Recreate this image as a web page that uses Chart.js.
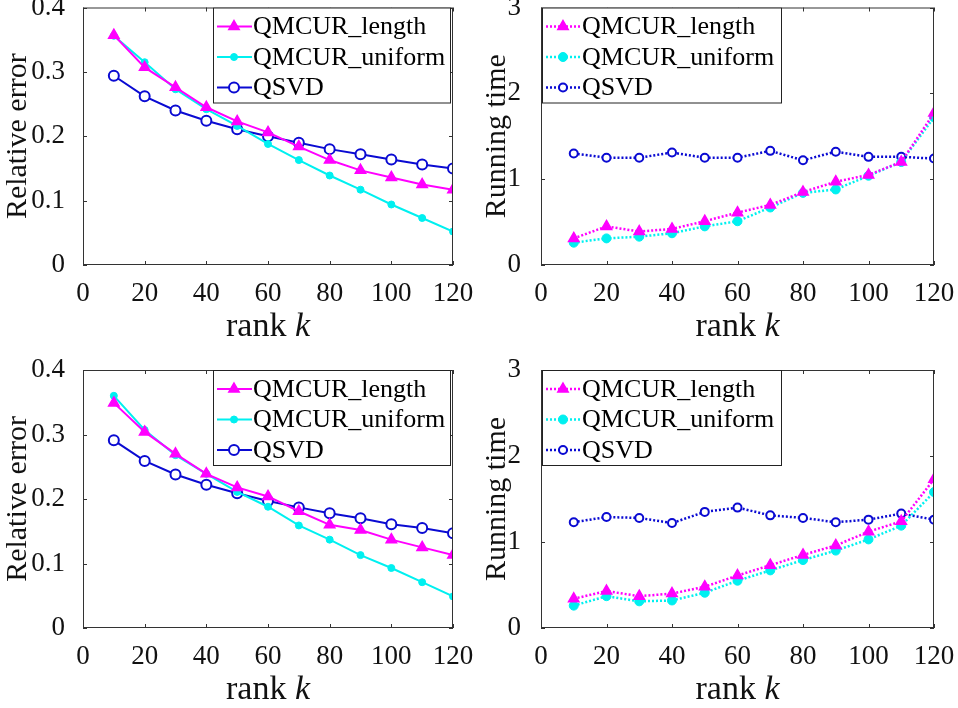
<!DOCTYPE html>
<html lang="en">
<head>
  <meta charset="UTF-8">
  <title>QMCUR vs QSVD</title>
  <script src="https://cdn.jsdelivr.net/npm/chart.js"></script>
  <style>
    body { margin: 0; background: #fff; }
    #wrap { position: relative; width: 958px; height: 708px; overflow: hidden; }
    canvas { position: absolute; }
  </style>
</head>
<body>
  <div id="wrap">
    <canvas id="errTop" width="479" height="354" style="left:0;top:0"></canvas>
    <canvas id="timeTop" width="479" height="354" style="left:479px;top:0"></canvas>
    <canvas id="errBot" width="479" height="354" style="left:0;top:354px"></canvas>
    <canvas id="timeBot" width="479" height="354" style="left:479px;top:354px"></canvas>
  </div>
  <script>
    const ranks = [10, 20, 30, 40, 50, 60, 70, 80, 90, 100, 110, 120];
    const xTicks = [0, 20, 40, 60, 80, 100, 120];
    const errTicks = [0, 0.1, 0.2, 0.3, 0.4];
    const timeTicks = [0, 1, 2, 3];
    const seriesNames = ['QMCUR_length', 'QMCUR_uniform', 'QSVD'];

    // top row
    const errLenTop = [0.357, 0.307, 0.276, 0.245, 0.223, 0.206, 0.184, 0.163, 0.147, 0.136, 0.125, 0.117];
    const errUniTop = [0.356, 0.315, 0.273, 0.242, 0.216, 0.188, 0.163, 0.139, 0.117, 0.094, 0.073, 0.052];
    const errSvdTop = [0.294, 0.262, 0.240, 0.224, 0.211, 0.200, 0.190, 0.180, 0.172, 0.164, 0.156, 0.150];
    const timeLenTop = [0.31, 0.45, 0.39, 0.42, 0.51, 0.61, 0.70, 0.85, 0.97, 1.05, 1.20, 1.77];
    const timeUniTop = [0.26, 0.31, 0.33, 0.37, 0.45, 0.51, 0.67, 0.84, 0.88, 1.04, 1.20, 1.72];
    const timeSvdTop = [1.30, 1.25, 1.25, 1.31, 1.25, 1.25, 1.33, 1.22, 1.32, 1.26, 1.26, 1.24];

    // bottom row
    const errLenBot = [0.349, 0.304, 0.270, 0.239, 0.218, 0.204, 0.181, 0.160, 0.152, 0.137, 0.125, 0.113];
    const errUniBot = [0.360, 0.307, 0.268, 0.239, 0.211, 0.188, 0.159, 0.137, 0.113, 0.093, 0.071, 0.049];
    const errSvdBot = [0.291, 0.259, 0.238, 0.222, 0.209, 0.197, 0.187, 0.178, 0.170, 0.161, 0.155, 0.147];
    const timeLenBot = [0.34, 0.43, 0.37, 0.40, 0.48, 0.61, 0.73, 0.85, 0.96, 1.12, 1.24, 1.73];
    const timeUniBot = [0.26, 0.37, 0.31, 0.32, 0.41, 0.55, 0.67, 0.79, 0.90, 1.03, 1.19, 1.58];
    const timeSvdBot = [1.23, 1.29, 1.28, 1.22, 1.35, 1.40, 1.31, 1.28, 1.23, 1.26, 1.33, 1.26];

    const SERIF = "'Liberation Serif', 'Times New Roman', serif";
    const MAGENTA = '#ff00ff', CYAN = '#00f0f0', BLUE = '#0a0ad2';

    // axes box, inward ticks, legend inside the axes and "rank k" label
    const matlabAxes = {
      id: 'matlabAxes',
      afterDatasetsDraw(chart, args, opts) {
        const ctx = chart.ctx;
        const a = chart.chartArea;
        const sx = chart.scales.x, sy = chart.scales.y;
        ctx.save();
        ctx.strokeStyle = '#333';
        ctx.lineWidth = 1;
        ctx.setLineDash([]);
        ctx.strokeRect(a.left + 0.5, a.top + 0.5, a.right - a.left - 1, a.bottom - a.top - 1);
        ctx.beginPath();
        sx.ticks.forEach(t => {
          const px = Math.round(sx.getPixelForValue(t.value)) + 0.5;
          ctx.moveTo(px, a.bottom); ctx.lineTo(px, a.bottom - 4);
          ctx.moveTo(px, a.top); ctx.lineTo(px, a.top + 4);
        });
        sy.ticks.forEach(t => {
          const py = Math.round(sy.getPixelForValue(t.value)) + 0.5;
          ctx.moveTo(a.left, py); ctx.lineTo(a.left + 4, py);
          ctx.moveTo(a.right, py); ctx.lineTo(a.right - 4, py);
        });
        ctx.stroke();

        // legend
        const w = opts.boxW, h = opts.boxH;
        const bx = opts.corner === 'ne' ? a.right - 2 - w : a.left + 1;
        const by = a.top;
        ctx.fillStyle = '#fff';
        ctx.fillRect(bx, by, w, h);
        ctx.strokeStyle = '#222';
        ctx.strokeRect(bx + 0.5, by + 0.5, w - 1, h - 1);
        chart.data.datasets.forEach((ds, i) => {
          const cy = by + 19 + i * 30.5;
          ctx.strokeStyle = ds.borderColor;
          ctx.lineWidth = ds.borderWidth;
          ctx.setLineDash(ds.borderDash || []);
          ctx.beginPath();
          ctx.moveTo(bx + 4, cy); ctx.lineTo(bx + 39, cy);
          ctx.stroke();
          ctx.setLineDash([]);
          ctx.fillStyle = ds.pointBackgroundColor;
          ctx.strokeStyle = ds.borderColor;
          ctx.lineWidth = ds.pointBorderWidth;
          Chart.helpers.drawPoint(ctx, {
            pointStyle: ds.pointStyle, radius: ds.pointRadius,
            rotation: 0, borderWidth: ds.pointBorderWidth
          }, bx + 21, cy);
          ctx.fillStyle = '#000';
          ctx.font = '26px ' + SERIF;
          ctx.textAlign = 'left';
          ctx.textBaseline = 'middle';
          ctx.fillText(ds.label, bx + 40, cy + 1);
        });

        // x axis title with italic k
        ctx.fillStyle = '#111';
        ctx.textBaseline = 'alphabetic';
        const f1 = '34px ' + SERIF, f2 = 'italic 34px ' + SERIF;
        ctx.font = f1;
        const w1 = ctx.measureText('rank ').width;
        ctx.font = f2;
        const w2 = ctx.measureText('k').width;
        const x0 = (a.left + a.right) / 2 - (w1 + w2) / 2;
        const base = a.bottom + 71;
        ctx.font = f1;
        ctx.fillText('rank ', x0, base);
        ctx.font = f2;
        ctx.fillText('k', x0 + w1, base);
        ctx.restore();
      }
    };

    function makePanel(id, cfg) {
      const dotted = cfg.dotted;
      const line = dotted ? 2.5 : 2;
      const dash = dotted ? [2, 2] : [];
      const mk = (label, vals, color, style, r, bg, bw) => ({
        label: label,
        data: ranks.map((k, i) => ({ x: k, y: vals[i] })),
        borderColor: color,
        backgroundColor: color,
        borderWidth: line,
        borderDash: dash,
        pointStyle: style,
        pointRadius: r,
        pointBackgroundColor: bg,
        pointBorderColor: color,
        pointBorderWidth: bw,
        tension: 0
      });
      const datasets = [
        mk(seriesNames[0], cfg.len, MAGENTA, 'triangle', 6, MAGENTA, 1.5),
        mk(seriesNames[1], cfg.uni, CYAN, 'circle', dotted ? 4.5 : 3.5, CYAN, 1),
        mk(seriesNames[2], cfg.svd, BLUE, 'circle', dotted ? 4 : 5, '#fff', 2)
      ];
      const canvasH = 354;
      new Chart(document.getElementById(id), {
        type: 'line',
        data: { datasets: datasets },
        plugins: [matlabAxes],
        options: {
          responsive: false,
          animation: false,
          events: [],
          layout: { padding: { left: 0, top: cfg.top, right: cfg.rightPad, bottom: 0 } },
          plugins: {
            legend: { display: false },
            tooltip: { enabled: false },
            matlabAxes: { corner: cfg.corner, boxW: cfg.boxW, boxH: 96 }
          },
          scales: {
            x: {
              type: 'linear',
              min: 0, max: 120,
              afterBuildTicks: s => { s.ticks = xTicks.map(v => ({ value: v })); },
              afterFit: s => {
                s.height = canvasH - cfg.top - 258;
                s.paddingLeft = 0; s.paddingRight = 0;
              },
              grid: { display: false },
              border: { display: false },
              ticks: {
                font: { family: SERIF, size: 27 },
                color: '#111',
                padding: 5,
                maxRotation: 0,
                autoSkip: false
              }
            },
            y: {
              type: 'linear',
              min: 0, max: cfg.yTicks[cfg.yTicks.length - 1],
              afterBuildTicks: s => { s.ticks = cfg.yTicks.map(v => ({ value: v })); },
              afterFit: s => {
                s.width = cfg.yWidth;
                s.paddingTop = 0; s.paddingBottom = 0;
              },
              grid: { display: false },
              border: { display: false },
              ticks: {
                font: { family: SERIF, size: 27 },
                color: '#111',
                padding: cfg.tickPad,
                callback: v => String(v)
              },
              title: {
                display: true,
                text: cfg.yTitle,
                font: { family: SERIF, size: 30 },
                color: '#111',
                padding: 0
              }
            }
          }
        }
      });
    }

    makePanel('errTop', {
      len: errLenTop, uni: errUniTop, svd: errSvdTop, dotted: false,
      yTicks: errTicks, yTitle: 'Relative error', corner: 'ne', boxW: 238,
      top: 7, rightPad: 26, yWidth: 83, tickPad: 10
    });
    makePanel('timeTop', {
      len: timeLenTop, uni: timeUniTop, svd: timeSvdTop, dotted: true,
      yTicks: timeTicks, yTitle: 'Running time', corner: 'nw', boxW: 240,
      top: 7, rightPad: 24, yWidth: 62, tickPad: 12
    });
    makePanel('errBot', {
      len: errLenBot, uni: errUniBot, svd: errSvdBot, dotted: false,
      yTicks: errTicks, yTitle: 'Relative error', corner: 'ne', boxW: 238,
      top: 16, rightPad: 26, yWidth: 83, tickPad: 10
    });
    makePanel('timeBot', {
      len: timeLenBot, uni: timeUniBot, svd: timeSvdBot, dotted: true,
      yTicks: timeTicks, yTitle: 'Running time', corner: 'nw', boxW: 240,
      top: 16, rightPad: 24, yWidth: 62, tickPad: 12
    });
  </script>
</body>
</html>
